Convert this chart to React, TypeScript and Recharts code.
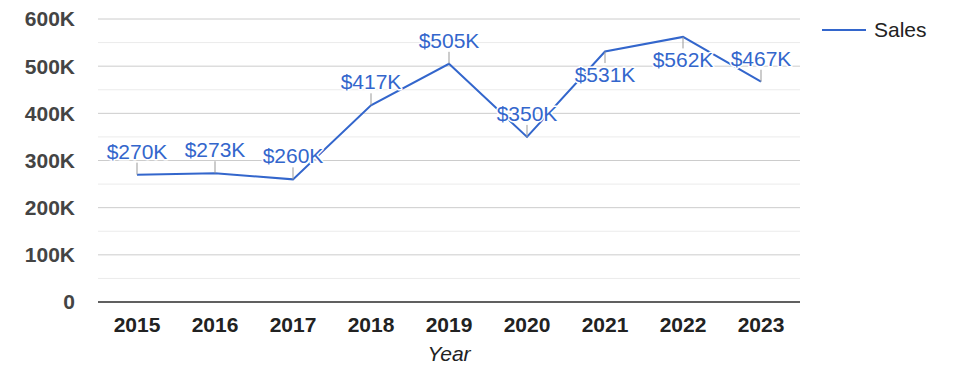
import React from 'react';
import { LineChart, Line, XAxis, YAxis, CartesianGrid, ReferenceLine, LabelList, Legend, Label } from 'recharts';

const years = ['2015', '2016', '2017', '2018', '2019', '2020', '2021', '2022', '2023'];
const sales = [270000, 273000, 260000, 417000, 505000, 350000, 531000, 562000, 467000];
const yTicks = [0, 100000, 200000, 300000, 400000, 500000, 600000];
const minorTicks = [50000, 150000, 250000, 350000, 450000, 550000];
const seriesName = 'Sales';
const axisTitle = 'Year';

const data = years.map((y, i) => ({ year: y, sales: sales[i] }));

const FONT = '"Liberation Sans", Arial, sans-serif';
const BLUE = '#3366cc';

const fmtY = (v: number) => (v === 0 ? '0' : `${v / 1000}K`);
const fmtLabel = (v: number) => `$${Math.round(v / 1000)}K`;

const DataLabel = (props: any) => {
  const { x, y, value } = props;
  if (x == null || y == null) return null;
  const below = value > 520000;
  const y2 = below ? y + 11.5 : y - 12;
  const ty = below ? y + 30 : y - 16;
  return (
    <g>
      <line x1={x} y1={y} x2={x} y2={y2} stroke="#999" strokeWidth={1} />
      <text
        x={x}
        y={ty}
        textAnchor="middle"
        fontFamily={FONT}
        fontSize={21}
        fill={BLUE}
        stroke="#fff"
        strokeWidth={3}
        strokeLinejoin="round"
        paintOrder="stroke"
      >
        {fmtLabel(value)}
      </text>
    </g>
  );
};

const LegendContent = () => (
  <div style={{ width: 150, height: 24, position: 'relative', fontFamily: FONT }}>
    <svg width={150} height={24} style={{ display: 'block' }}>
      <line x1={1} y1={12} x2={45} y2={12} stroke={BLUE} strokeWidth={2} />
      <text x={53} y={19} fontSize={21} fill="#222" fontFamily={FONT}>
        {seriesName}
      </text>
    </svg>
  </div>
);

export default function App() {
  return (
    <div style={{ position: 'absolute', left: 0, top: 0, background: '#fff' }}>
      <LineChart
        width={975}
        height={378}
        data={data}
        margin={{ top: 19, right: 25, left: 0, bottom: 0 }}
      >
        <CartesianGrid vertical={false} stroke="#cccccc" strokeWidth={1} />
        {minorTicks.map((t) => (
          <ReferenceLine key={t} y={t} stroke="#ebebeb" strokeWidth={1} ifOverflow="extendDomain" />
        ))}
        <XAxis
          dataKey="year"
          height={76}
          padding={{ left: 39, right: 39 }}
          tickLine={false}
          axisLine={{ stroke: '#333', strokeWidth: 1.5 }}
          tickMargin={9}
          tick={{ fill: '#222', fontSize: 21, fontWeight: 'bold', fontFamily: FONT }}
          interval={0}
        >
          <Label
            value={axisTitle}
            position="insideBottom"
            offset={17}
            style={{ fill: '#222', fontSize: 21, fontStyle: 'italic', fontFamily: FONT }}
          />
        </XAxis>
        <YAxis
          width={98}
          domain={[0, 600000]}
          ticks={yTicks}
          tickFormatter={fmtY}
          tickLine={false}
          axisLine={false}
          tickMargin={17}
          tick={{ fill: '#444', fontSize: 21, fontWeight: 'bold', fontFamily: FONT }}
        />
        <Legend
          layout="vertical"
          align="right"
          verticalAlign="top"
          content={<LegendContent />}
          wrapperStyle={{ top: 18, left: 821, right: 'auto', width: 150 }}
        />
        <Line
          type="linear"
          dataKey="sales"
          name={seriesName}
          stroke={BLUE}
          strokeWidth={2}
          dot={false}
          activeDot={false}
          isAnimationActive={false}
        >
          <LabelList dataKey="sales" content={<DataLabel />} />
        </Line>
      </LineChart>
    </div>
  );
}
